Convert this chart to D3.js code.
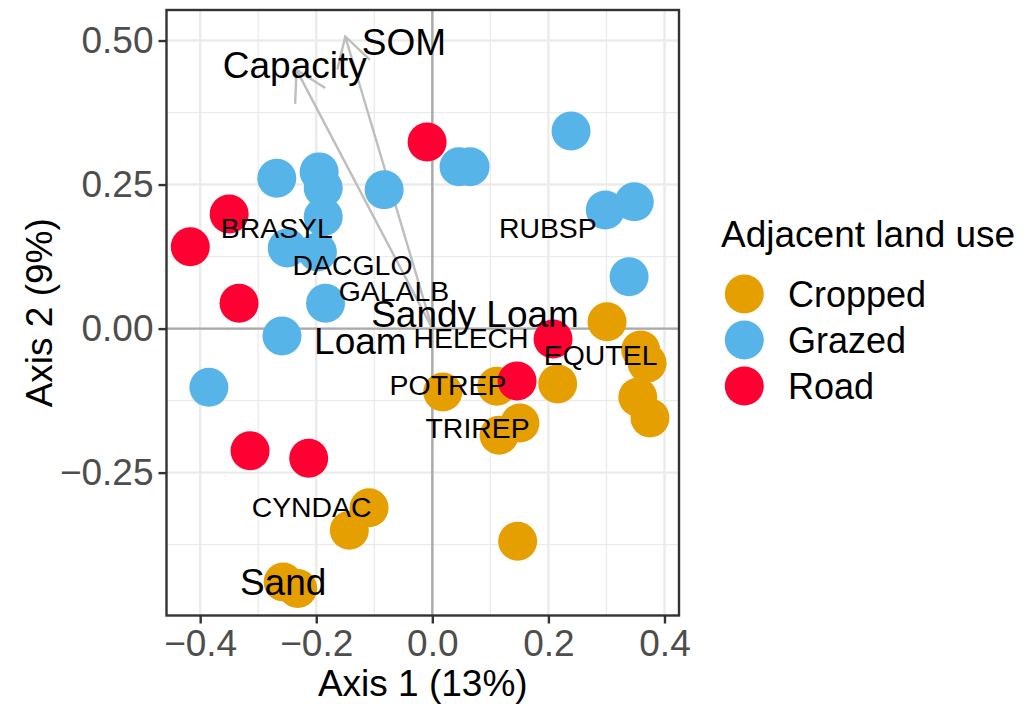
<!DOCTYPE html>
<html>
<head>
<meta charset="utf-8">
<script src="https://cdn.jsdelivr.net/npm/d3@7"></script>
<style>
  body { margin: 0; background: #fff; }
  text { font-family: "Liberation Sans", Arial, sans-serif; }
</style>
</head>
<body>
<svg width="1033" height="704"></svg>
<script>
// данные ординации
const landUse = ["Cropped", "Grazed", "Road"];

const cropped = [
  [0.301, 0.012], [0.359, -0.037], [0.370, -0.060], [0.354, -0.119], [0.375, -0.155],
  [0.216, -0.096], [0.111, -0.100], [0.018, -0.110], [0.151, -0.164], [0.115, -0.185],
  [0.147, -0.369], [-0.109, -0.311], [-0.143, -0.350], [-0.257, -0.440], [-0.232, -0.451]
];
const grazed = [
  [0.239, 0.343], [0.046, 0.281], [0.065, 0.281], [-0.083, 0.241], [-0.268, 0.261],
  [-0.195, 0.272], [-0.188, 0.244], [-0.188, 0.194], [-0.250, 0.140], [-0.198, 0.133],
  [-0.184, 0.044], [-0.259, -0.013], [-0.385, -0.102], [0.298, 0.206], [0.348, 0.220],
  [0.339, 0.090]
];
const road = [
  [-0.009, 0.324], [-0.350, 0.199], [-0.417, 0.142], [-0.333, 0.044],
  [0.208, -0.018], [0.146, -0.091], [-0.314, -0.212], [-0.213, -0.225]
];

const speciesNames = ["BRASYL", "DACGLO", "GALALB", "HELECH", "RUBSP", "EQUTEL", "POTREP", "TRIREP", "CYNDAC"];
const speciesX = [-0.268, -0.1375, -0.066, 0.0667, 0.199, 0.290, 0.027, 0.078, -0.208];
const speciesY = [0.175, 0.110, 0.065, -0.016, 0.175, -0.046, -0.098, -0.173, -0.310];

const vectorNames = ["Capacity", "SOM"];
const vectorX = [-0.234, -0.150];
const vectorY = [0.449, 0.507];
const vectorLabelX = [-0.237, -0.049];
const vectorLabelY = [0.456, 0.497];

const textureNames = ["Sandy Loam", "Loam", "Sand"];
const textureX = [0.0736, -0.124, -0.257];
const textureY = [0.025, -0.022, -0.440];

const xTicks = [-0.4, -0.2, 0.0, 0.2, 0.4];
const xMinor = [-0.3, -0.1, 0.1, 0.3];
const yTicks = [-0.25, 0.0, 0.25, 0.5];
const yMinor = [-0.375, -0.125, 0.125, 0.375];

// оформление
const svg = d3.select('svg');
const panel = {left: 166.5, right: 679, top: 10, bottom: 615.5};

const x = d3.scaleLinear().domain([-0.458, 0.425]).range([panel.left, panel.right]);
const y = d3.scaleLinear().domain([-0.498, 0.553]).range([panel.bottom, panel.top]);
const colour = d3.scaleOrdinal().domain(landUse).range(["#E69F00", "#56B4E9", "#FF0033"]);

const pW = panel.right - panel.left, pH = panel.bottom - panel.top;

//сетка
const grid = svg.append('g');
grid.selectAll('.vminor').data(xMinor).join('line')
  .attr('x1', d => x(d)).attr('x2', d => x(d)).attr('y1', panel.top).attr('y2', panel.bottom)
  .attr('stroke', '#ebebeb').attr('stroke-width', 1.3);
grid.selectAll('.hminor').data(yMinor).join('line')
  .attr('y1', d => y(d)).attr('y2', d => y(d)).attr('x1', panel.left).attr('x2', panel.right)
  .attr('stroke', '#ebebeb').attr('stroke-width', 1.3);
grid.append('g').selectAll('line').data(xTicks).join('line')
  .attr('x1', d => x(d)).attr('x2', d => x(d)).attr('y1', panel.top).attr('y2', panel.bottom)
  .attr('stroke', '#ebebeb').attr('stroke-width', 2.4);
grid.append('g').selectAll('line').data(yTicks).join('line')
  .attr('y1', d => y(d)).attr('y2', d => y(d)).attr('x1', panel.left).attr('x2', panel.right)
  .attr('stroke', '#ebebeb').attr('stroke-width', 2.4);

// нулевые линии
svg.append('line').attr('x1', x(0)).attr('x2', x(0)).attr('y1', panel.top).attr('y2', panel.bottom)
  .attr('stroke', '#aaaaaa').attr('stroke-width', 2.4);
svg.append('line').attr('y1', y(0)).attr('y2', y(0)).attr('x1', panel.left).attr('x2', panel.right)
  .attr('stroke', '#aaaaaa').attr('stroke-width', 2.4);

// стрелки
const arrows = svg.append('g').attr('stroke', '#bebebe').attr('stroke-width', 2.4).attr('fill', 'none');
vectorNames.forEach((name, i) => {
  const x0 = x(0), y0 = y(0), x1 = x(vectorX[i]), y1 = y(vectorY[i]);
  const ang = Math.atan2(y0 - y1, x0 - x1);
  const len = 34, a = Math.PI / 6;
  const path = d3.path();
  path.moveTo(x0, y0); path.lineTo(x1, y1);
  path.moveTo(x1 + len * Math.cos(ang + a), y1 + len * Math.sin(ang + a));
  path.lineTo(x1, y1);
  path.lineTo(x1 + len * Math.cos(ang - a), y1 + len * Math.sin(ang - a));
  arrows.append('path').attr('d', path.toString());
});

// точки
const sites = [cropped, grazed, road];
sites.forEach((arr, i) => {
  svg.append('g').selectAll('circle').data(arr).join('circle')
    .attr('cx', d => x(d[0])).attr('cy', d => y(d[1])).attr('r', 19.5)
    .attr('fill', colour(landUse[i]));
});

// подписи видов
svg.append('g').selectAll('text').data(speciesNames).join('text')
  .attr('x', (d, i) => x(speciesX[i])).attr('y', (d, i) => y(speciesY[i]))
  .attr('text-anchor', 'middle').attr('dominant-baseline', 'central')
  .attr('font-size', 28.4).attr('fill', '#000').text(d => d);

svg.append('g').selectAll('text').data(vectorNames).join('text')
  .attr('x', (d, i) => x(vectorLabelX[i])).attr('y', (d, i) => y(vectorLabelY[i]))
  .attr('text-anchor', 'middle').attr('dominant-baseline', 'central')
  .attr('font-size', 37).attr('fill', '#000').text(d => d);

svg.append('g').selectAll('text').data(textureNames).join('text')
  .attr('x', (d, i) => x(textureX[i])).attr('y', (d, i) => y(textureY[i]))
  .attr('text-anchor', 'middle').attr('dominant-baseline', 'central')
  .attr('font-size', 37).attr('fill', '#000').text(d => d);

// рамка
svg.append('rect').attr('x', panel.left).attr('y', panel.top).attr('width', pW).attr('height', pH)
  .attr('fill', 'none').attr('stroke', '#333333').attr('stroke-width', 2.4);

// оси
const xAxis = svg.append('g').attr('transform', `translate(0,${panel.bottom})`)
  .call(d3.axisBottom(x).tickValues(xTicks).tickSize(8).tickPadding(6)
    .tickFormat(d => d3.format('.1f')(d).replace('-', '\u2212')));
const yAxis = svg.append('g').attr('transform', `translate(${panel.left},0)`)
  .call(d3.axisLeft(y).tickValues(yTicks).tickSize(8).tickPadding(5)
    .tickFormat(d => d3.format('.2f')(d).replace('-', '\u2212')));
[xAxis, yAxis].forEach(g => {
  g.select('.domain').remove();
  g.selectAll('.tick line').attr('stroke', '#333333').attr('stroke-width', 2.4);
  g.selectAll('.tick text').attr('fill', '#4d4d4d').attr('font-size', 37)
    .attr('font-family', '"Liberation Sans", Arial, sans-serif');
});

svg.append('text').attr('x', (panel.left + panel.right) / 2).attr('y', 696)
  .attr('text-anchor', 'middle').attr('font-size', 37).text('Axis 1 (13%)');
svg.append('text').attr('transform', `translate(52,${(panel.top + panel.bottom) / 2}) rotate(-90)`)
  .attr('text-anchor', 'middle').attr('font-size', 37).text('Axis 2 (9%)');

// легенда
const legend = svg.append('g');
legend.append('text').attr('x', 721).attr('y', 247).attr('font-size', 37).text('Adjacent land use');
legend.selectAll('circle').data(landUse).join('circle')
  .attr('cx', 744.3).attr('cy', (d, i) => 294 + i * 46).attr('r', 19.5)
  .attr('fill', d => colour(d));
legend.selectAll('.lab').data(landUse).join('text')
  .attr('x', 788).attr('y', (d, i) => 294 + i * 46).attr('dominant-baseline', 'central')
  .attr('font-size', 36).text(d => d);
</script>
</body>
</html>
